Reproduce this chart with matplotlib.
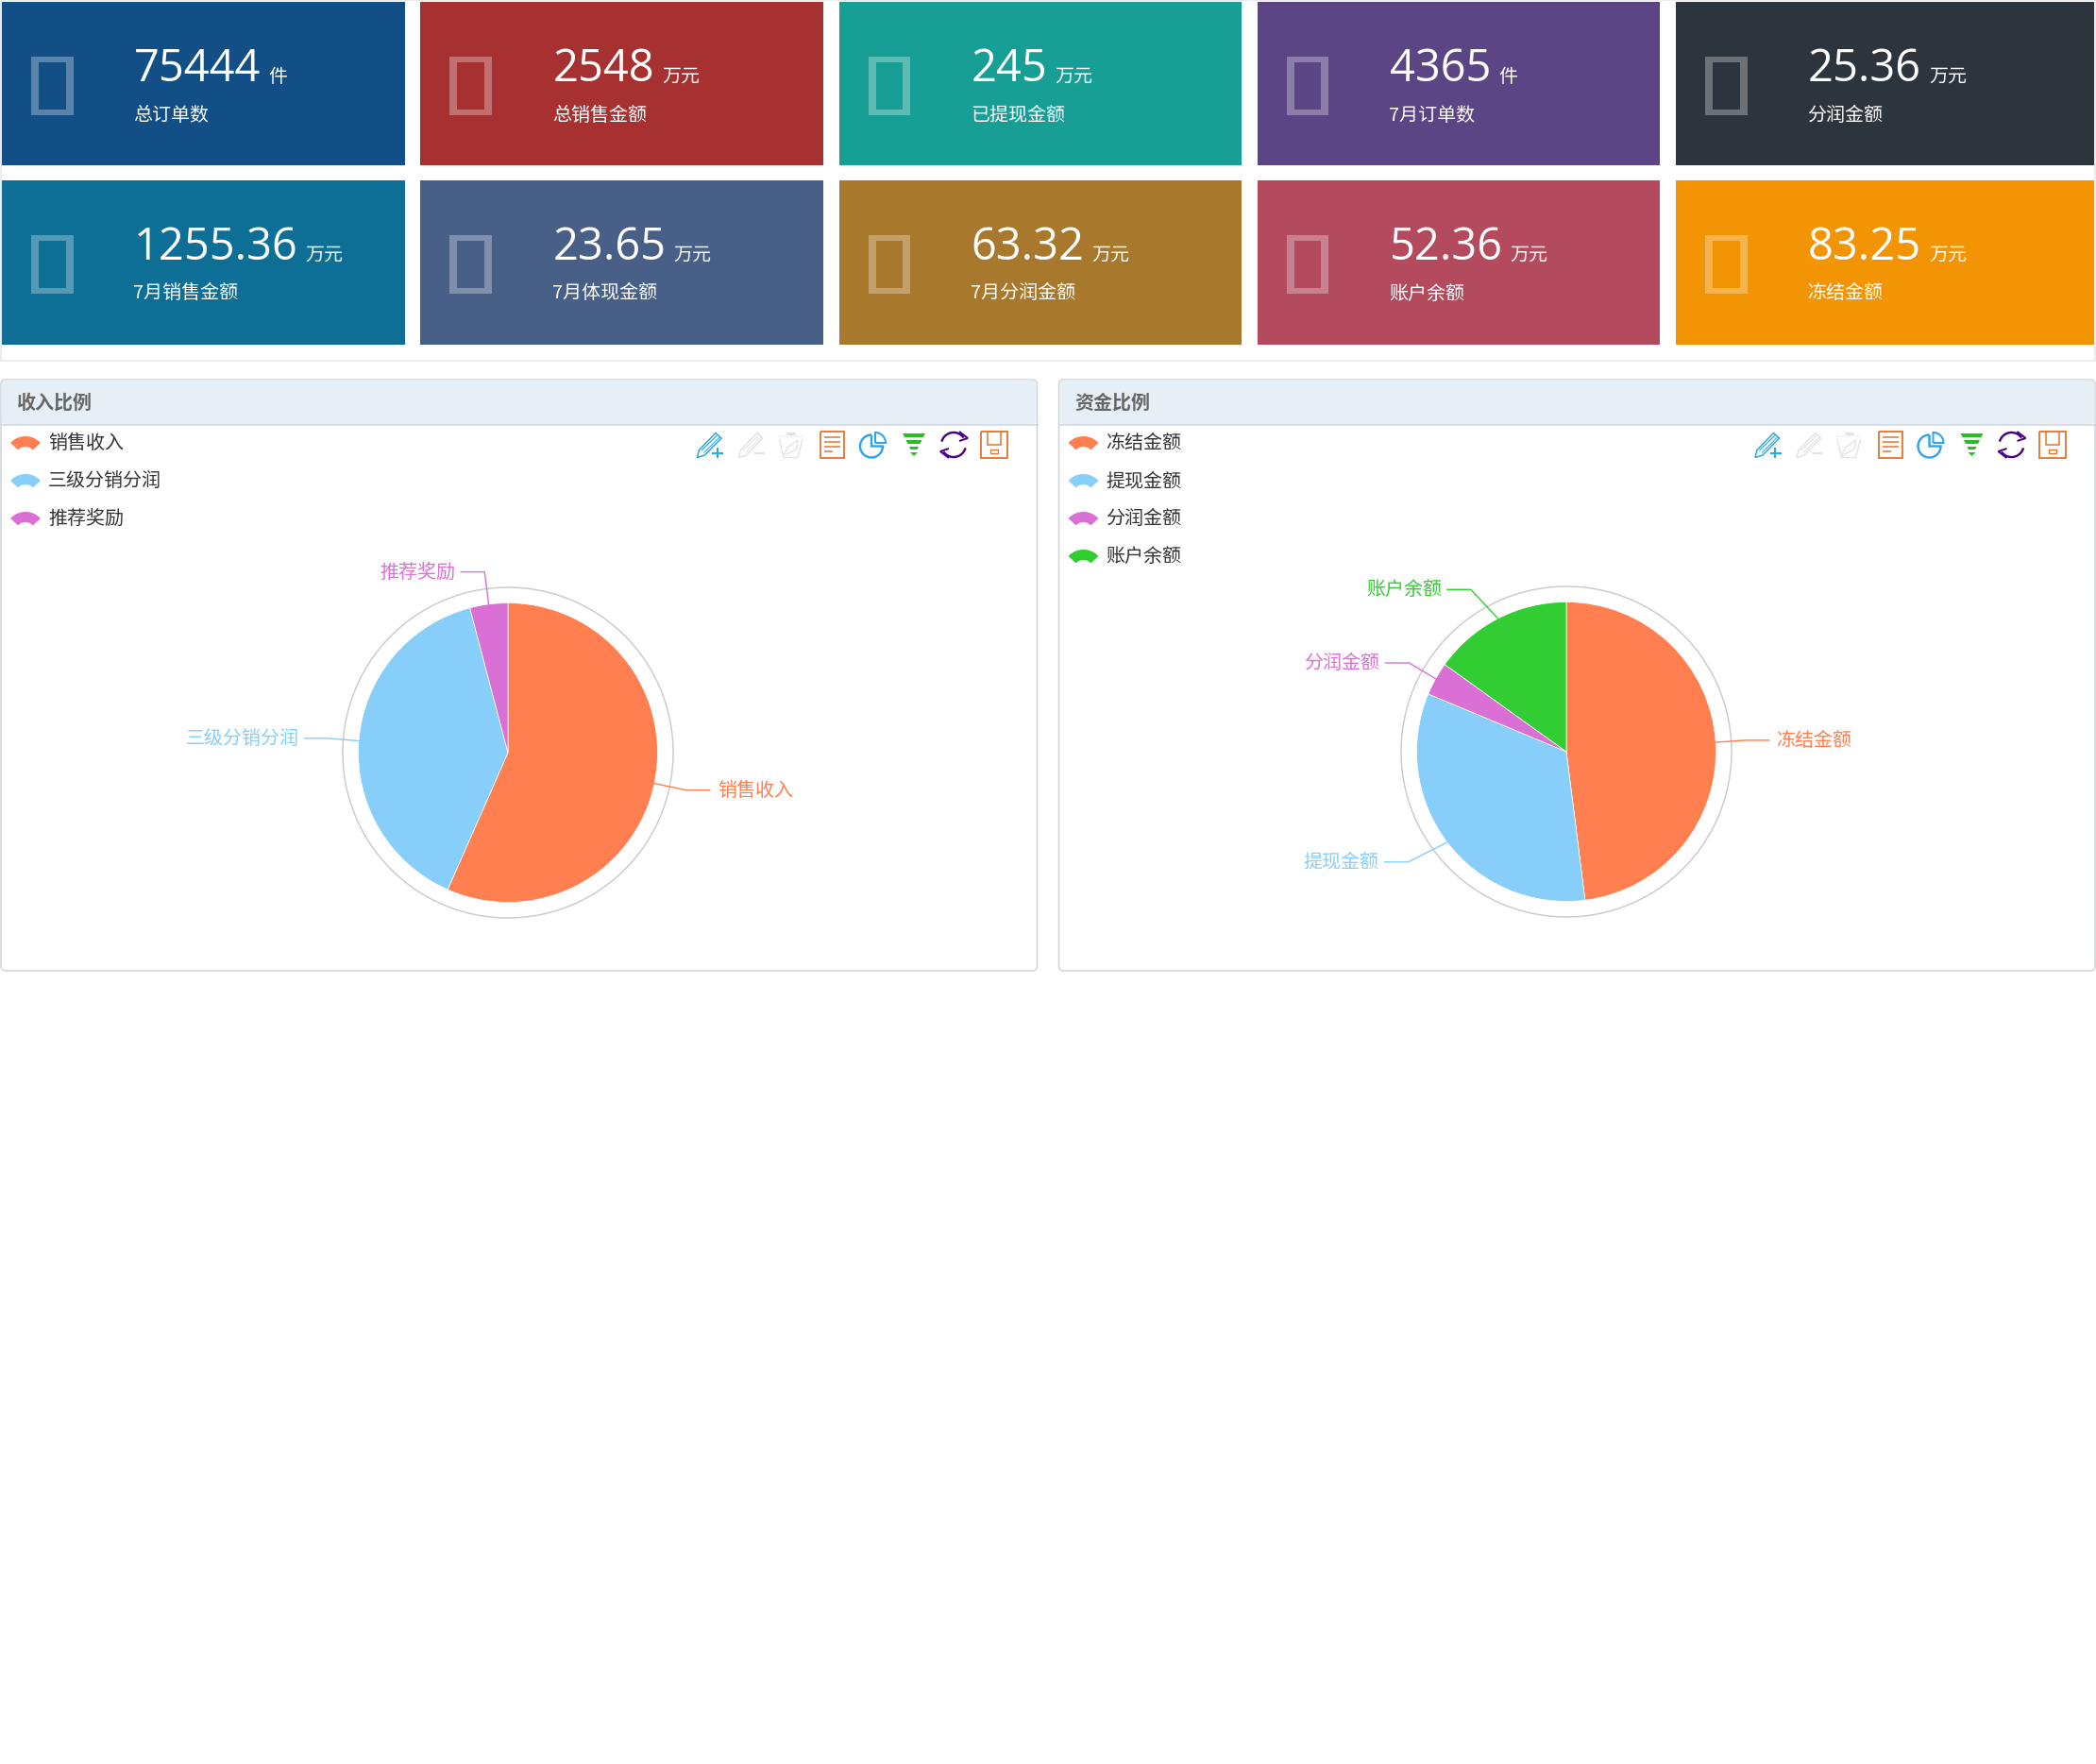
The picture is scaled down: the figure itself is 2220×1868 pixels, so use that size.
import numpy as np
import matplotlib
matplotlib.use("Agg")
import matplotlib.pyplot as plt
from matplotlib.patches import Rectangle, Wedge, Circle, FancyBboxPatch, PathPatch, Polygon
from matplotlib.path import Path

plt.rcParams['font.family'] = ['Noto Sans CJK SC', 'DejaVu Sans']

# ---------- data ----------
card_values = ["75444", "2548", "245", "4365", "25.36",
               "1255.36", "23.65", "63.32", "52.36", "83.25"]
card_units = ["件", "万元", "万元", "件", "万元",
              "万元", "万元", "万元", "万元", "万元"]
card_labels = ["总订单数", "总销售金额", "已提现金额", "7月订单数", "分润金额",
               "7月销售金额", "7月体现金额", "7月分润金额", "账户余额", "冻结金额"]
card_colors = ["#134f87", "#a73131", "#189f95", "#5c4585", "#2c353d",
               "#0d6e96", "#485f88", "#a8782c", "#b34a5e", "#f39404"]

panel_titles = ["收入比例", "资金比例"]
income_names = ["销售收入", "三级分销分润", "推荐奖励"]
income_values = [56.6, 39.3, 4.1]
income_colors = ["#ff7f50", "#87cefa", "#da70d6"]
fund_names = ["冻结金额", "提现金额", "分润金额", "账户余额"]
fund_values = [48.0, 33.3, 3.6, 15.1]
fund_colors = ["#ff7f50", "#87cefa", "#da70d6", "#32cd32"]
income_elbow_shift = [0, 2, 0]
fund_elbow_shift = [-3, -14, 2, -13]

# ---------- canvas ----------
W, H = 2220, 1868
PX = 0.72  # points per pixel at dpi 100
fig = plt.figure(figsize=(W / 100, H / 100), dpi=100, facecolor="white")
ax = fig.add_axes([0, 0, 1, 1])
ax.set_xlim(0, W)
ax.set_ylim(H, 0)
ax.axis("off")
renderer = fig.canvas.get_renderer()

# top container
ax.add_patch(Rectangle((1, 0), W - 2, 382, fc="none", ec="#e8e8e8", lw=1.6 * PX))


def tofu(x0, y0, x1, y1, sx, sy):
    verts = [(x0, y0), (x1, y0), (x1, y1), (x0, y1), (x0, y0),
             (x0 + sx, y0 + sy), (x0 + sx, y1 - sy), (x1 - sx, y1 - sy), (x1 - sx, y0 + sy), (x0 + sx, y0 + sy)]
    codes = [Path.MOVETO, Path.LINETO, Path.LINETO, Path.LINETO, Path.CLOSEPOLY] * 2
    ax.add_patch(PathPatch(Path(verts, codes), fc="white", ec="none", alpha=0.3))


# ---------- cards ----------
card_x_step = 443.25
card_widths = [426.5, 426.5, 426.5, 426.5, 443]
row_y = [(2, 175), (191, 365)]
for i, (val, unit, lab, col) in enumerate(zip(card_values, card_units, card_labels, card_colors)):
    r, c = divmod(i, 5)
    x0 = 2 + c * card_x_step
    y0, y1 = row_y[r]
    ax.add_patch(Rectangle((x0, y0), card_widths[c], y1 - y0, fc=col, ec="none"))
    tofu(x0 + 31, y0 + 58, x0 + 75.5, y0 + 120, 8, 6)
    t = ax.text(x0 + 140, y0 + 84, val, color="white", fontsize=47 * PX, ha="left", va="baseline",
                family=["Open Sans", "DejaVu Sans"])
    bb = t.get_window_extent(renderer)
    ax.text(bb.x1 + 8, y0 + 85, unit, color="white", fontsize=20 * PX, ha="left", va="baseline")
    ax.text(x0 + 139.5, y0 + 120, lab, color="white", fontsize=20 * PX, ha="left", va="center")


# ---------- toolbar icons ----------
def L(ox, oy, pts, color, lw=1.5, closed=False, ls="-"):
    p = [(ox + a, oy + b) for a, b in pts]
    if closed:
        p.append(p[0])
    xs, ys = zip(*p)
    ax.plot(xs, ys, color=color, lw=lw * PX, ls=ls, solid_joinstyle="miter", solid_capstyle="butt")


def arc_pts(cx, cy, r, a0, a1):
    # screen angles, degrees clockwise from 3 o'clock
    th = np.deg2rad(np.linspace(a0, a1, 40))
    return list(zip(cx + r * np.cos(th), cy + r * np.sin(th)))


def pencil(ox, oy, color):
    L(ox, oy, [(0.5, 27.5), (2.5, 19.5), (20, 1.5), (26, 7), (8.5, 25)], color, closed=True)
    L(ox, oy, [(5, 20), (21.5, 4)], color, 1.2)
    L(ox, oy, [(7.5, 22.5), (24, 6)], color, 1.0)


def toolbar(dx):
    blue = "#2ba5f0"
    gray = "#e3e3e3"
    orange = "#e2732d"
    oy = 457
    ox = dx + 738
    pencil(ox, oy, blue)
    L(ox, oy, [(16, 22.5), (28, 22.5)], blue, 2)
    L(ox, oy, [(21.5, 16.5), (21.5, 28)], blue, 2)
    ox = dx + 782
    pencil(ox, oy, gray)
    L(ox, oy, [(17, 22.5), (28, 22.5)], gray, 2)
    # trash
    ox = dx + 825
    L(ox, oy, [(0, 5), (25, 5)], gray, 1.5, ls=":")
    L(ox, oy, [(8, 2), (17, 2)], gray, 3)
    L(ox, oy, [(0.5, 8), (5, 27.5), (20, 27.5), (25, 8)], gray, 1.3)
    L(ox, oy, [(5, 26), (9, 17), (20, 9), (19, 18), (7, 25)], gray, 1.3)
    # list
    ox = dx + 869
    L(ox, oy, [(0, 0), (25, 0), (25, 28), (0, 28)], orange, 1.8, closed=True)
    for yy, xe in zip((6, 11, 16, 21), (21, 21, 21, 13)):
        L(ox, oy, [(4, yy), (xe, yy)], orange, 1.5)
    # pie icon: three quarter ring with a small detached quarter
    ox = dx + 910
    L(ox, oy, [(13, 3.5), (13, 15.5), (25, 15.5)] + arc_pts(13, 15.5, 12, 0, 270), blue, 2.4)
    L(ox, oy, [(17, 12)] + arc_pts(17, 12, 11, -90, 0) + [(17, 12)], blue, 2.0)
    # funnel
    ox = dx + 955
    green = "#28bf22"
    for ya, yb in ((2, 6), (9, 13), (16, 19)):
        wa = 13 * (1 - ya / 26)
        wb = 13 * (1 - yb / 26)
        ax.add_patch(Polygon([(ox + 13 - wa, oy + ya), (ox + 13 + wa, oy + ya),
                              (ox + 13 + wb, oy + yb), (ox + 13 - wb, oy + yb)], fc=green, ec="none"))
    ax.add_patch(Polygon([(ox + 9, oy + 22), (ox + 17, oy + 22), (ox + 13, oy + 26)], fc=green, ec="none"))
    # refresh
    ox = dx + 995
    purple = "#4b0082"
    L(ox, oy, arc_pts(15, 14, 13, -165, -35), purple, 2.4)
    L(ox, oy, arc_pts(15, 14, 13, 15, 145), purple, 2.4)
    L(ox, oy, [(21, 0), (30, 7), (21, 10)], purple, 2)
    L(ox, oy, [(10, 18), (1, 21), (10, 28)], purple, 2)
    # save
    ox = dx + 1039
    L(ox, oy, [(0, 0), (28, 0), (28, 28), (0, 28)], orange, 1.8, closed=True)
    L(ox, oy, [(7, 0), (7, 14), (21, 14), (21, 0)], orange, 1.5)
    L(ox, oy, [(10, 19), (18, 19), (18, 23), (10, 23)], orange, 1.3, closed=True)


# ---------- panels ----------
def panel(dx, title, names, values, colors, shifts, cx, cy):
    x0, x1 = 1 + dx, 1098.5 + dx
    ytop, yh, ybot = 402, 449.5, 1028
    ax.add_patch(FancyBboxPatch((x0 + 4, ytop + 4), x1 - x0 - 8, ybot - ytop - 8,
                                boxstyle="round,pad=4,rounding_size=5", fc="white", ec="#cfd3d8", lw=1.5 * PX))
    ax.add_patch(FancyBboxPatch((x0 + 4.5, ytop + 4.5), x1 - x0 - 9, yh - ytop - 9,
                                boxstyle="round,pad=4,rounding_size=5", fc="#e6eef6", ec="none", zorder=2))
    ax.plot([x0, x1], [yh, yh], color="#cfd3d8", lw=1.5 * PX, zorder=3)
    ax.text(dx + 18, 426.5, title, color="#666666", fontsize=20 * PX, fontweight="bold",
            ha="left", va="center", zorder=4)

    # legend
    for i, (n, c) in enumerate(zip(names, colors)):
        yy = 468 + 40 * i
        ax.add_patch(Wedge((dx + 27, yy + 15.8), 21.8, 223, 317, width=11, fc=c, ec="none"))
        ax.text(dx + 51, yy + 1.5, n, color="#333333", fontsize=20 * PX, ha="left", va="center")

    toolbar(dx)

    # pie on its own axes, in units of the pie radius
    R = 158.5
    half = 350
    pax = fig.add_axes([(cx - half) / W, 1 - (cy + half) / H, 2 * half / W, 2 * half / H])
    pax.pie(values, colors=colors, startangle=90, counterclock=False, radius=1,
            wedgeprops=dict(edgecolor="white", linewidth=0.5))
    lim = half / R
    pax.set_xlim(-lim, lim)
    pax.set_ylim(-lim, lim)
    pax.set_aspect("equal")
    pax.axis("off")
    pax.patch.set_alpha(0)
    pax.add_patch(Circle((0, 0), 175 / R, fc="none", ec="#cccccc", lw=1.5 * PX))

    total = sum(values)
    acc = 0
    for n, v, c, s in zip(names, values, colors, shifts):
        mid = np.deg2rad((acc + v / 2) / total * 360)
        acc += v
        sx, cxx = np.sin(mid), np.cos(mid)
        ex = sx * 193 / R + s / R
        ey = cxx * 193 / R
        side = 1 if sx > 0 else -1
        hx = ex + side * 25 / R
        gap = 8 if side > 0 else 6
        pax.plot([sx, ex, hx], [cxx, ey, ey], color=c, lw=1.4 * PX, solid_joinstyle="miter")
        pax.text(hx + side * gap / R, ey - 0.5 / R, n, color=c, fontsize=20 * PX,
                 ha="left" if side > 0 else "right", va="center")


panel(0, panel_titles[0], income_names, income_values, income_colors, income_elbow_shift, 538, 797)
panel(1120.5, panel_titles[1], fund_names, fund_values, fund_colors, fund_elbow_shift, 1659, 796)

fig.savefig("out.png", dpi=100, facecolor="white")
